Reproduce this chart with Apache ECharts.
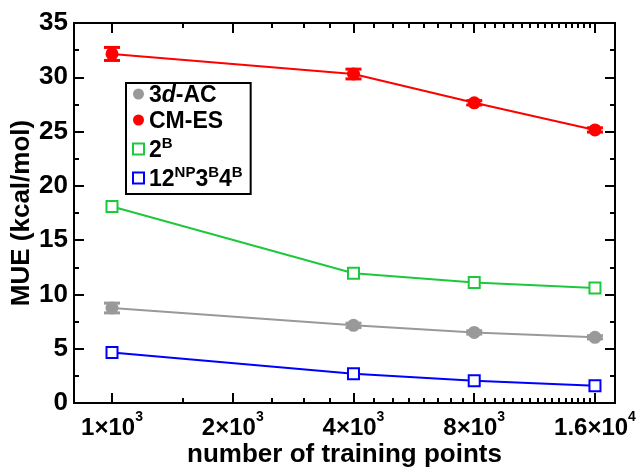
<!DOCTYPE html>
<html>
<head>
<meta charset="utf-8">
<script src="https://cdn.jsdelivr.net/npm/echarts@6/dist/echarts.min.js"></script>
<style>
  html, body { margin: 0; padding: 0; background: #fff; }
  #chart { width: 642px; height: 468px; }
</style>
</head>
<body>
<div id="chart"></div>
<script>
// data
const trainingPoints = [1000, 4000, 8000, 16000];
const ac3d = [8.75, 7.15, 6.5, 6.05];
const ac3dErr = [0.45, 0.2, 0.15, 0.15];
const cmes = [32.15, 30.3, 27.65, 25.15];
const cmesErr = [0.6, 0.45, 0.2, 0.2];
const twoB = [18.1, 11.95, 11.1, 10.6];
const npB = [4.65, 2.7, 2.05, 1.6];

const xMajorTicks = [1000, 2000, 4000, 8000, 16000];
const xMinorStep = 500;
const xMinorTicks = [];
for (let v = 1500; v < 16000; v += xMinorStep) {
  if (!xMajorTicks.includes(v)) xMinorTicks.push(v);
}

const FONT = 'Liberation Sans';
const C_GRAY = '#999999', C_RED = '#ff0000', C_GREEN = '#1ec83c', C_BLUE = '#0000ff';

const legendText = {
  '3d-AC': '{t|3}{it|d}{t|-AC}',
  'CM-ES': '{t|CM-ES}',
  '2B': '{t|2}{sup|B}',
  '12NP3B4B': '{t|12}{sup|NP}{t|3}{sup|B}{t|4}{sup|B}'
};

function xLabel(v) {
  const e = Math.floor(Math.log10(v));
  const m = +(v / Math.pow(10, e)).toFixed(2);
  return '{b|' + m + '×10}{sup|' + e + '}';
}

function errorBars(vals, errs, color) {
  return {
    type: 'custom',
    xAxisIndex: 0,
    yAxisIndex: 0,
    silent: true,
    z: 3,
    data: trainingPoints.map((x, i) => [x, vals[i] - errs[i], vals[i] + errs[i]]),
    renderItem(params, api) {
      const lo = api.coord([api.value(0), api.value(1)]);
      const hi = api.coord([api.value(0), api.value(2)]);
      const w = 8;
      const style = { stroke: color, lineWidth: 3 };
      return {
        type: 'group',
        children: [
          { type: 'line', shape: { x1: lo[0], y1: lo[1], x2: hi[0], y2: hi[1] }, style },
          { type: 'line', shape: { x1: lo[0] - w, y1: lo[1], x2: lo[0] + w, y2: lo[1] }, style },
          { type: 'line', shape: { x1: hi[0] - w, y1: hi[1], x2: hi[0] + w, y2: hi[1] }, style }
        ]
      };
    }
  };
}

const axisLine = { show: true, onZero: false, lineStyle: { color: '#000', width: 2 } };
const xBase = { type: 'log', logBase: 2, min: 804, max: 17950, splitLine: { show: false } };

function xAxisDef(position, major, labels) {
  return {
    ...xBase,
    position,
    axisLine,
    axisTick: {
      show: true, inside: true, length: major ? 10 : 5,
      customValues: major ? xMajorTicks : xMinorTicks,
      lineStyle: { color: '#000', width: 2 }
    },
    axisLabel: labels ? {
      show: true,
      customValues: xMajorTicks,
      formatter: xLabel,
      margin: 7,
      hideOverlap: false,
      rich: {
        b: { fontFamily: FONT, fontWeight: 'bold', fontSize: 24, color: '#000', verticalAlign: 'bottom', lineHeight: 30 },
        sup: { fontFamily: FONT, fontWeight: 'bold', fontSize: 14, color: '#000', verticalAlign: 'top', lineHeight: 14 }
      }
    } : { show: false }
  };
}

function yAxisDef(position, labels) {
  return {
    type: 'value',
    position,
    min: 0, max: 35, interval: 5,
    splitLine: { show: false },
    axisLine,
    axisTick: { show: true, inside: true, length: 10, lineStyle: { color: '#000', width: 2 } },
    minorTick: { show: true, splitNumber: 2, length: 5, lineStyle: { color: '#000', width: 2 } },
    axisLabel: labels ? {
      show: true, margin: 6, fontFamily: FONT, fontWeight: 'bold', fontSize: 26, color: '#000'
    } : { show: false },
    name: labels ? 'MUE (kcal/mol)' : '',
    nameLocation: 'middle',
    nameGap: 39,
    nameMoveOverlap: false,
    nameTextStyle: { fontFamily: FONT, fontWeight: 'bold', fontSize: 26, color: '#000' }
  };
}

const xAxes = [
  xAxisDef('bottom', true, true),
  xAxisDef('bottom', false, false),
  xAxisDef('top', true, false),
  xAxisDef('top', false, false)
];
xAxes[0].name = 'number of training points';
xAxes[0].nameLocation = 'middle';
xAxes[0].nameGap = 39;
xAxes[0].nameMoveOverlap = false;
xAxes[0].nameTextStyle = { fontFamily: FONT, fontWeight: 'bold', fontSize: 26, color: '#000' };

function lineSeries(name, vals, color, symbol) {
  const empty = symbol === 'emptyRect';
  return {
    name,
    type: 'line',
    xAxisIndex: 0,
    yAxisIndex: 0,
    data: trainingPoints.map((x, i) => [x, vals[i]]),
    symbol,
    symbolSize: empty ? 11 : 13,
    showSymbol: true,
    z: 4,
    lineStyle: { color, width: 2 },
    itemStyle: empty ? { color, borderColor: color, borderWidth: 2 } : { color },
    emphasis: { disabled: true }
  };
}

const chart = echarts.init(document.getElementById('chart'));
chart.setOption({
  animation: false,
  backgroundColor: '#fff',
  grid: { left: 74, right: 27, top: 23, bottom: 65, containLabel: false, outerBoundsMode: 'none' },
  xAxis: xAxes,
  yAxis: [yAxisDef('left', true), yAxisDef('right', false)],
  legend: {
    left: 126,
    top: 83,
    orient: 'vertical',
    backgroundColor: '#fff',
    borderColor: '#000',
    borderWidth: 2,
    padding: [1, 8, 3, 6],
    itemGap: 3,
    itemWidth: 11,
    itemHeight: 11,
    selectedMode: false,
    data: [
      { name: '3d-AC', icon: 'circle' },
      { name: 'CM-ES', icon: 'circle' },
      { name: '2B', icon: 'rect', itemStyle: { color: '#fff', borderColor: C_GREEN, borderWidth: 2 } },
      { name: '12NP3B4B', icon: 'rect', itemStyle: { color: '#fff', borderColor: C_BLUE, borderWidth: 2 } }
    ],
    formatter: name => legendText[name],
    textStyle: {
      rich: {
        t: { fontFamily: FONT, fontWeight: 'bold', fontSize: 23, color: '#000', verticalAlign: 'bottom', lineHeight: 26 },
        it: { fontFamily: FONT, fontWeight: 'bold', fontStyle: 'italic', fontSize: 23, color: '#000', verticalAlign: 'bottom', lineHeight: 26 },
        sup: { fontFamily: FONT, fontWeight: 'bold', fontSize: 15, color: '#000', verticalAlign: 'top', lineHeight: 12 }
      }
    }
  },
  series: [
    errorBars(ac3d, ac3dErr, C_GRAY),
    errorBars(cmes, cmesErr, C_RED),
    lineSeries('3d-AC', ac3d, C_GRAY, 'circle'),
    lineSeries('CM-ES', cmes, C_RED, 'circle'),
    lineSeries('2B', twoB, C_GREEN, 'emptyRect'),
    lineSeries('12NP3B4B', npB, C_BLUE, 'emptyRect')
  ]
});
</script>
</body>
</html>
